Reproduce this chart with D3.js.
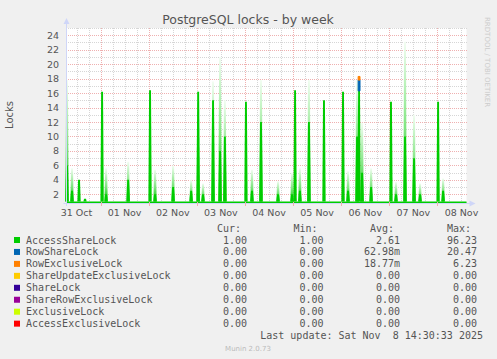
<!DOCTYPE html>
<html>
<head>
<meta charset="utf-8">
<script src="https://cdn.jsdelivr.net/npm/d3@7"></script>
<style>
  body { margin: 0; background: #f0f0f0; }
  text { font-family: "DejaVu Sans", sans-serif; fill: #555; }
  .mono { font-family: "DejaVu Sans Mono", monospace; white-space: pre; }
</style>
</head>
<body>
<div id="canvas"></div>
<script>
"use strict"
let svgWidth = 497;
let svgHeight = 359;

let plotLeft = 66.5;
let plotRight = 466.5;
let plotTop = 28;
let plotBottom = 203;

// AccessShareLock spikes (baseline value is 1)
let baselineValue = 1;
let spikeTimes = [
  "2025-10-31T07:15", "2025-10-31T09:45", "2025-10-31T13:15", "2025-10-31T16:15",
  "2025-11-01T00:45", "2025-11-01T02:45", "2025-11-01T13:45",
  "2025-11-02T00:40", "2025-11-02T03:10", "2025-11-02T12:10", "2025-11-02T21:10",
  "2025-11-03T00:40", "2025-11-03T03:05", "2025-11-03T08:05", "2025-11-03T11:35", "2025-11-03T14:00",
  "2025-11-04T00:30", "2025-11-04T03:30", "2025-11-04T08:00", "2025-11-04T16:30", "2025-11-04T23:30",
  "2025-11-05T01:00", "2025-11-05T03:25", "2025-11-05T07:55", "2025-11-05T15:25",
  "2025-11-06T00:55", "2025-11-06T03:25", "2025-11-06T07:55", "2025-11-06T08:55", "2025-11-06T10:25", "2025-11-06T14:55",
  "2025-11-07T00:50", "2025-11-07T03:20", "2025-11-07T07:50", "2025-11-07T12:20", "2025-11-07T15:20",
  "2025-11-08T00:20", "2025-11-08T02:50"
];
// peak of the faded part of each spike
let spikePeak = [
  17.8, 5.6, 4.0, 1.4,
  16.2, 5.6, 6.5,
  16.4, 5.4, 6.0, 4.0,
  16.4, 3.5, 17.6, 21.0, 15.0,
  14.8, 5.4, 17.8, 3.8, 5.0,
  16.4, 5.6, 17.8, 15.0,
  16.2, 5.2, 17.8, 16.3, 11.9, 5.6,
  14.8, 3.7, 23.1, 13.0, 3.5,
  14.8, 4.2
];
// solid part of each spike
let spikeSolid = [
  6.0, 2.5, 4.0, 1.4,
  16.2, 2.0, 4.0,
  16.4, 2.0, 3.0, 2.5,
  16.2, 2.0, 15.0, 8.0, 10.0,
  14.8, 2.5, 12.0, 2.0, 2.0,
  16.4, 2.5, 12.0, 15.0,
  16.2, 2.5, 10.0, 16.3, 5.0, 3.0,
  14.8, 2.0, 10.0, 7.0, 2.0,
  14.8, 2.5
];

// stacked on top of AccessShareLock
let rowShareTimes = ["2025-11-06T08:55"];
let rowShareValues = [1.5];
let rowExclTimes = ["2025-11-06T08:55"];
let rowExclValues = [0.5];

let yTickValues = [2, 4, 6, 8, 10, 12, 14, 16, 18, 20, 22, 24];
let dayTimes = ["2025-10-31", "2025-11-01", "2025-11-02", "2025-11-03", "2025-11-04",
  "2025-11-05", "2025-11-06", "2025-11-07", "2025-11-08"];
let dayLabels = ["31 Oct", "01 Nov", "02 Nov", "03 Nov", "04 Nov", "05 Nov", "06 Nov", "07 Nov", "08 Nov"];

let lockNames = ["AccessShareLock", "RowShareLock", "RowExclusiveLock", "ShareUpdateExclusiveLock",
  "ShareLock", "ShareRowExclusiveLock", "ExclusiveLock", "AccessExclusiveLock"];
let lockColors = ["#00cc00", "#0066b3", "#ff8000", "#ffcc00", "#330099", "#990099", "#ccff00", "#ff0000"];
let curValues = ["1.00", "0.00", "0.00", "0.00", "0.00", "0.00", "0.00", "0.00"];
let minValues = ["1.00", "0.00", "0.00", "0.00", "0.00", "0.00", "0.00", "0.00"];
let avgValues = ["2.61", "62.98m", "18.77m", "0.00", "0.00", "0.00", "0.00", "0.00"];
let maxValues = ["96.23", "20.47", "6.23", "0.00", "0.00", "0.00", "0.00", "0.00"];

let parseTime = d3.timeParse("%Y-%m-%dT%H:%M");
let parseDay = d3.timeParse("%Y-%m-%d");
let startTime = parseTime("2025-10-31T07:00");
let endTime = parseTime("2025-11-08T14:30");

let svg = d3.select("#canvas")
  .append("svg")
  .attr("width", svgWidth)
  .attr("height", svgHeight);

svg.append("rect")
  .attr("width", svgWidth)
  .attr("height", svgHeight)
  .attr("fill", "#f0f0f0");

let xScale = d3.scaleTime()
  .domain([startTime, endTime])
  .range([plotLeft, plotRight]);

let yScale = d3.scaleLinear()
  .domain([0.8, 25])
  .range([plotBottom, plotTop]);

svg.append("rect")
  .attr("x", plotLeft)
  .attr("y", plotTop)
  .attr("width", plotRight - plotLeft)
  .attr("height", plotBottom - plotTop)
  .attr("fill", "white");

let defs = svg.append("defs");

// dotted grid patterns (1px on, 1px off)
let minorColor = "#d6d6d6";
let majorColor = "#efb0b0";
function dotPattern(id, color, horizontal) {
  let p = defs.append("pattern")
    .attr("id", id)
    .attr("patternUnits", "userSpaceOnUse")
    .attr("width", horizontal ? 2 : 1)
    .attr("height", horizontal ? 1 : 2);
  p.append("rect").attr("width", 1).attr("height", 1).attr("fill", color);
}
dotPattern("hMinor", minorColor, true);
dotPattern("hMajor", majorColor, true);
dotPattern("vMinor", minorColor, false);
dotPattern("vMajor", majorColor, false);

// grid: minor every 1 / 6h, major every 2 / day
let grid = svg.append("g").attr("shape-rendering", "crispEdges");
for (let v = 1; v <= 25; v++) {
  let y = Math.round(yScale(v));
  grid.append("rect")
    .attr("x", Math.round(plotLeft)).attr("width", Math.round(plotRight) - Math.round(plotLeft))
    .attr("y", y).attr("height", 1)
    .attr("fill", v % 2 == 0 ? "url(#hMajor)" : "url(#hMinor)");
}
let sixHours = d3.timeHour.every(6).range(startTime, endTime);
for (let i = 0; i < sixHours.length; i++) {
  let t = sixHours[i];
  let x = Math.round(xScale(t));
  grid.append("rect")
    .attr("x", x).attr("width", 1)
    .attr("y", plotTop).attr("height", plotBottom - plotTop)
    .attr("fill", t.getHours() == 0 ? "url(#vMajor)" : "url(#vMinor)");
}

// gradient for faded spikes
let grad = defs.append("linearGradient")
  .attr("id", "fade")
  .attr("x1", 0).attr("y1", 0).attr("x2", 0).attr("y2", 1);
grad.append("stop").attr("offset", "0%").attr("stop-color", "#f2fdf2");
grad.append("stop").attr("offset", "55%").attr("stop-color", "#7ee57e");
grad.append("stop").attr("offset", "100%").attr("stop-color", "#00cc00");

let halfTop = 28 * 60 * 1000;
let halfBase = 50 * 60 * 1000;

function spikePoints(t, low, high) {
  return [
    {t: new Date(t.getTime() - halfBase), lo: low, hi: low},
    {t: new Date(t.getTime() - halfTop), lo: low, hi: high},
    {t: new Date(t.getTime() + halfTop), lo: low, hi: high},
    {t: new Date(t.getTime() + halfBase), lo: low, hi: low}
  ];
}

let area = d3.area()
  .x(function(d) { return xScale(d.t); })
  .y0(function(d) { return yScale(d.lo); })
  .y1(function(d) { return yScale(d.hi); });

let spikes = spikeTimes.map(function(s, i) {
  return {t: parseTime(s), peak: spikePeak[i], solid: spikeSolid[i]};
});

// baseline area
svg.append("path")
  .datum([{t: startTime, lo: 0.8, hi: baselineValue}, {t: endTime, lo: 0.8, hi: baselineValue}])
  .attr("fill", "#00cc00")
  .attr("d", area);

svg.selectAll("path.faint")
  .data(spikes.filter(function(d) { return d.peak > d.solid; }))
  .join("path")
  .attr("class", "faint")
  .attr("fill", "url(#fade)")
  .attr("d", function(d) { return area(spikePoints(d.t, baselineValue, d.peak)); });

svg.selectAll("path.solid")
  .data(spikes)
  .join("path")
  .attr("class", "solid")
  .attr("fill", "#00cc00")
  .attr("d", function(d) { return area(spikePoints(d.t, baselineValue, d.solid)); });

// stacked layers
function solidAt(t) {
  let s = spikes.find(function(d) { return d.t.getTime() == t.getTime(); });
  return s ? s.solid : baselineValue;
}
let rowShare = rowShareTimes.map(function(s, i) {
  let t = parseTime(s);
  return {t: t, lo: solidAt(t), hi: solidAt(t) + rowShareValues[i]};
});
svg.selectAll("path.rowshare")
  .data(rowShare)
  .join("path")
  .attr("class", "rowshare")
  .attr("fill", lockColors[1])
  .attr("stroke", lockColors[1])
  .attr("stroke-width", 1)
  .attr("d", function(d) { return area(spikePoints(d.t, d.lo, d.hi).slice(1, 3)); });
let rowExcl = rowExclTimes.map(function(s, i) {
  let t = parseTime(s);
  let base = solidAt(t) + rowShareValues[i];
  return {t: t, lo: base, hi: base + rowExclValues[i]};
});
svg.selectAll("path.rowexcl")
  .data(rowExcl)
  .join("path")
  .attr("class", "rowexcl")
  .attr("fill", lockColors[2])
  .attr("stroke", lockColors[2])
  .attr("stroke-width", 1)
  .attr("d", function(d) { return area(spikePoints(d.t, d.lo, d.hi).slice(1, 3)); });

// axes
let axisColor = "#cfd6f8";
svg.append("line")
  .attr("x1", plotLeft).attr("x2", plotLeft)
  .attr("y1", plotBottom + 3).attr("y2", 22)
  .attr("stroke", axisColor);
svg.append("path")
  .attr("d", "M" + (plotLeft - 3) + ",24 L" + plotLeft + ",18 L" + (plotLeft + 3) + ",24 Z")
  .attr("fill", axisColor);
svg.append("line")
  .attr("x1", plotLeft - 3).attr("x2", plotRight + 5)
  .attr("y1", plotBottom + 0.5).attr("y2", plotBottom + 0.5)
  .attr("stroke", axisColor);
svg.append("path")
  .attr("d", "M" + (plotRight + 3) + "," + (plotBottom - 2.5) + " L" + (plotRight + 9) + "," + (plotBottom + 0.5) +
    " L" + (plotRight + 3) + "," + (plotBottom + 3.5) + " Z")
  .attr("fill", axisColor);

// day ticks on axis
for (let i = 0; i < dayTimes.length; i++) {
  let d = parseDay(dayTimes[i]);
  let x = Math.round(xScale(d)) + 0.5;
  if (x > plotLeft) {
    svg.append("line")
      .attr("x1", x).attr("x2", x)
      .attr("y1", plotBottom - 1).attr("y2", plotBottom + 3)
      .attr("stroke", majorColor);
  }
  svg.append("text")
    .attr("x", xScale(d3.timeHour.offset(d, 12)))
    .attr("y", plotBottom + 13)
    .attr("text-anchor", "middle")
    .attr("font-size", "9.5px")
    .text(dayLabels[i]);
}

for (let i = 0; i < yTickValues.length; i++) {
  svg.append("text")
    .attr("x", 59)
    .attr("y", yScale(yTickValues[i]))
    .attr("text-anchor", "end")
    .attr("dominant-baseline", "central")
    .attr("font-size", "9.5px")
    .text(yTickValues[i]);
}

svg.append("text")
  .attr("x", 248)
  .attr("y", 24)
  .attr("text-anchor", "middle")
  .attr("font-size", "12.5px")
  .text("PostgreSQL locks - by week");

svg.append("text")
  .attr("transform", "translate(13,115) rotate(-90)")
  .attr("text-anchor", "middle")
  .attr("font-size", "10px")
  .text("Locks");

svg.append("text")
  .attr("transform", "translate(485,17) rotate(90)")
  .attr("text-anchor", "start")
  .attr("font-size", "7px")
  .style("fill", "#cccccc")
  .text("RRDTOOL / TOBI OETIKER");

// legend
let legendTop = 240;
let rowStep = 11.95;
let colEnds = [247, 323.5, 400, 477];
let headers = ["Cur:", "Min:", "Avg:", "Max:"];
for (let c = 0; c < headers.length; c++) {
  svg.append("text")
    .attr("class", "mono")
    .attr("x", colEnds[c] - 6)
    .attr("y", legendTop - rowStep)
    .attr("text-anchor", "end")
    .attr("dominant-baseline", "central")
    .attr("font-size", "10px")
    .text(headers[c]);
}
for (let i = 0; i < lockNames.length; i++) {
  let y = legendTop + i * rowStep;
  svg.append("rect")
    .attr("x", 14).attr("y", y - 3)
    .attr("width", 6).attr("height", 6)
    .attr("fill", lockColors[i]);
  svg.append("text")
    .attr("class", "mono")
    .attr("x", 26)
    .attr("y", y)
    .attr("dominant-baseline", "central")
    .attr("font-size", "10px")
    .text(lockNames[i]);
  let cols = [curValues[i], minValues[i], avgValues[i], maxValues[i]];
  for (let c = 0; c < cols.length; c++) {
    svg.append("text")
      .attr("class", "mono")
      .attr("x", colEnds[c])
      .attr("y", y)
      .attr("text-anchor", "end")
      .attr("dominant-baseline", "central")
      .attr("font-size", "10px")
      .text(cols[c]);
  }
}

svg.append("text")
  .attr("class", "mono")
  .attr("x", 483)
  .attr("y", 335.5)
  .attr("text-anchor", "end")
  .attr("dominant-baseline", "central")
  .attr("font-size", "10px")
  .text("Last update: Sat Nov  8 14:30:33 2025");

svg.append("text")
  .attr("x", 248)
  .attr("y", 348.5)
  .attr("text-anchor", "middle")
  .attr("dominant-baseline", "central")
  .attr("font-size", "7px")
  .style("fill", "#bbbbbb")
  .text("Munin 2.0.73");
</script>
</body>
</html>
